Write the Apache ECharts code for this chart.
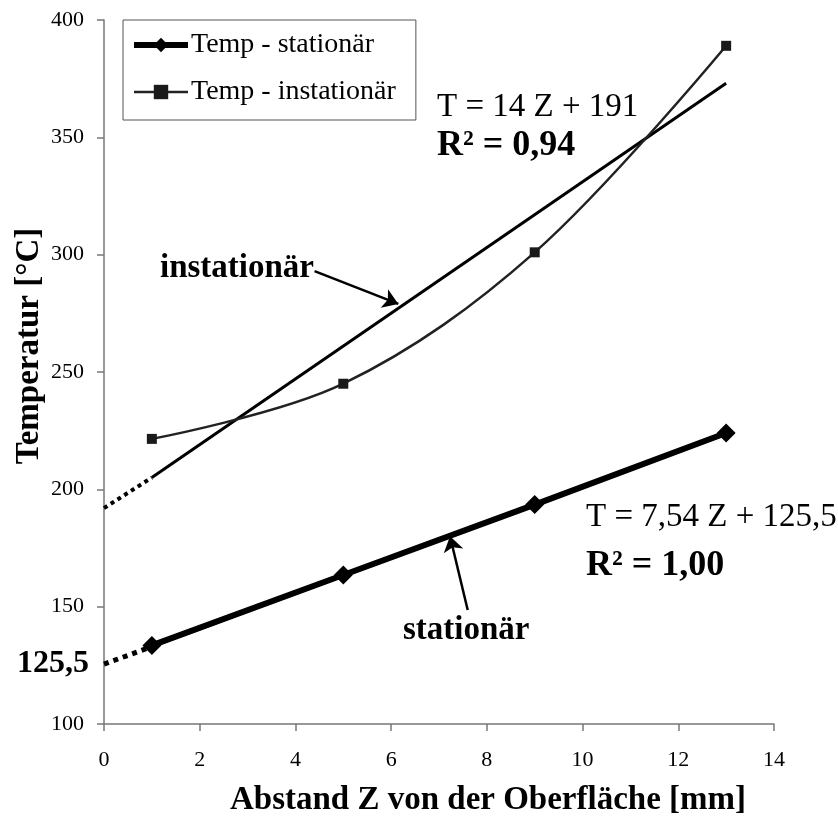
<!DOCTYPE html>
<html>
<head>
<meta charset="utf-8">
<script src="https://cdn.jsdelivr.net/npm/echarts@6/dist/echarts.min.js"></script>
<style>
html,body{margin:0;padding:0;background:#fff;}
#chart{width:838px;height:825px;}
</style>
</head>
<body>
<div id="chart"></div>
<script>
// ---- data ----
const zValues = [1, 5, 9, 13];
const tempStationaer = [133.5, 163.5, 193.5, 224];
const tempInstationaer = [221.5, 245, 301, 389];
// trend lines (T = 7,54 Z + 125,5 and T = 14 Z + 191)
const trendStatDotted = [[0, 125.5], [1, 133]];
const trendStatSolid = [[1, 133], [13, 223.5]];
const trendInstatDotted = [[0, 192], [1, 205]];
const trendInstatSolid = [[1, 205], [13, 373]];
// annotation arrows [from, to] in data coordinates
const arrowStat = [[7.6, 148.6], [7.23, 180]];
const arrowInstat = [[4.4, 293], [6.15, 279]];
const xTicks = {min: 0, max: 14, interval: 2};
const yTicks = {min: 100, max: 400, interval: 50};
const xTitle = 'Abstand Z von der Oberfläche [mm]';
const yTitle = 'Temperatur [°C]';
const legendNames = ['Temp - stationär', 'Temp - instationär'];

const FONT = '"Liberation Serif", "Times New Roman", serif';

const chart = echarts.init(document.getElementById('chart'), null, {renderer: 'canvas'});

function pairs(xs, ys){ return xs.map((x, i) => [x, ys[i]]); }

const option = {
  backgroundColor: '#fff',
  animation: false,
  grid: {left: 104, right: 64, top: 20, bottom: 101},
  xAxis: {
    type: 'value', min: xTicks.min, max: xTicks.max, interval: xTicks.interval,
    axisLine: {show: true, lineStyle: {color: '#777', width: 1.5}},
    axisTick: {show: true, length: 7, lineStyle: {color: '#777', width: 1.5}},
    axisLabel: {fontFamily: FONT, fontSize: 22, color: '#000', margin: 25},
    splitLine: {show: false}
  },
  yAxis: {
    type: 'value', min: yTicks.min, max: yTicks.max, interval: yTicks.interval,
    axisLine: {show: true, lineStyle: {color: '#777', width: 1.5}},
    axisTick: {show: true, length: 7, lineStyle: {color: '#777', width: 1.5}},
    axisLabel: {fontFamily: FONT, fontSize: 22, color: '#000', margin: 20},
    splitLine: {show: false}
  },
  legend: {
    data: [
      {name: legendNames[0], lineStyle: {width: 6, color: '#000'}, itemStyle: {color: '#000'}},
      {name: legendNames[1], lineStyle: {width: 2.5, color: '#222'}, itemStyle: {color: '#1a1a1a'}}
    ],
    orient: 'vertical', left: 123, top: 20,
    backgroundColor: '#fff', borderColor: '#555', borderWidth: 1,
    padding: [11, 20, 14, 8], itemGap: 19, itemWidth: 54, itemHeight: 18,
    textStyle: {fontFamily: FONT, fontSize: 28, color: '#000', padding: [0, 0, 0, -2]}
  },
  series: [
    {
      name: 'trend-stat-dotted', type: 'line', data: trendStatDotted, symbol: 'none',
      lineStyle: {color: '#000', width: 5, type: 'dotted', cap: 'butt'}, silent: true, z: 1
    },
    {
      name: 'trend-stat', type: 'line', data: trendStatSolid, symbol: 'none',
      lineStyle: {color: '#000', width: 3}, silent: true, z: 1
    },
    {
      name: 'trend-instat-dotted', type: 'line', data: trendInstatDotted, symbol: 'none',
      lineStyle: {color: '#000', width: 4, type: 'dotted', cap: 'butt'}, silent: true, z: 1
    },
    {
      name: 'trend-instat', type: 'line', data: trendInstatSolid, symbol: 'none',
      lineStyle: {color: '#000', width: 3}, silent: true, z: 1
    },
    {
      name: legendNames[0], type: 'line', data: pairs(zValues, tempStationaer),
      symbol: 'diamond', symbolSize: 19,
      itemStyle: {color: '#000'},
      lineStyle: {color: '#000', width: 6}, z: 3
    },
    {
      name: legendNames[1], type: 'line', data: pairs(zValues, tempInstationaer),
      smooth: 0.35, symbol: 'rect', symbolSize: 10,
      itemStyle: {color: '#1a1a1a'},
      lineStyle: {color: '#222', width: 2.5}, z: 3
    },
    {
      name: 'arrows', type: 'line', data: [], silent: true,
      markLine: {
        silent: true, symbol: ['none', 'arrow'], symbolSize: 15, animation: false,
        label: {show: false},
        lineStyle: {color: '#000', width: 2.5, type: 'solid'},
        data: [
          [{coord: arrowStat[0]}, {coord: arrowStat[1]}],
          [{coord: arrowInstat[0]}, {coord: arrowInstat[1]}]
        ]
      }
    }
  ],
  graphic: [
    {type: 'text', x: 488, y: 800, style: {text: xTitle, font: 'bold 33px ' + FONT, fill: '#000', align: 'center', verticalAlign: 'middle'}},
    {type: 'text', x: 29, y: 346, rotation: Math.PI / 2, style: {text: yTitle, font: 'bold 33px ' + FONT, fill: '#000', align: 'center', verticalAlign: 'middle'}},
    {type: 'text', left: 437, top: 91, style: {text: 'T = 14 Z + 191', font: '33px ' + FONT, fill: '#000'}},
    {type: 'text', left: 437, top: 128, style: {text: 'R² = 0,94', font: 'bold 36px ' + FONT, fill: '#000'}},
    {type: 'text', left: 586, top: 501, style: {text: 'T = 7,54 Z + 125,5', font: '33px ' + FONT, fill: '#000'}},
    {type: 'text', left: 586, top: 548, style: {text: 'R² = 1,00', font: 'bold 36px ' + FONT, fill: '#000'}},
    {type: 'text', left: 160, top: 252, style: {text: 'instationär', font: 'bold 33px ' + FONT, fill: '#000'}},
    {type: 'text', left: 403, top: 614, style: {text: 'stationär', font: 'bold 33px ' + FONT, fill: '#000'}},
    {type: 'text', left: 17, top: 648, style: {text: '125,5', font: 'bold 32px ' + FONT, fill: '#000'}}
  ]
};
chart.setOption(option);
</script>
</body>
</html>
